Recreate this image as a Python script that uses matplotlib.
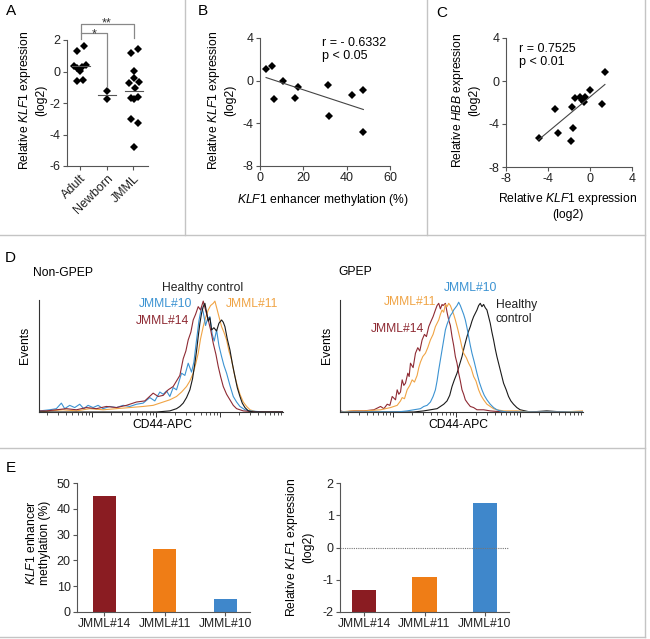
import numpy as np
import matplotlib
matplotlib.use("Agg")
import matplotlib.pyplot as plt
from matplotlib.lines import Line2D
from matplotlib.ticker import FixedLocator, NullFormatter

plt.rcParams['font.family'] = ['Liberation Sans', 'DejaVu Sans']
plt.rcParams['mathtext.fontset'] = 'custom'
plt.rcParams['mathtext.rm'] = 'Liberation Sans'
plt.rcParams['mathtext.it'] = 'Liberation Sans:italic'

W, H = 650, 639

# ---- A: KLF1 expression per group
groups = ["Adult", "Newborn", "JMML"]
adult = [1.32, 1.64, 0.35, 0.24, 0.05, 0.27, 0.39, -0.58, -0.54]
newborn = [-1.22, -1.77]
jmml = [1.15, 1.41, 0.05, -0.43, -0.75, -0.69, -1.07, -1.70, -1.75, -1.62, -3.04, -3.25, -4.81]
adult_jit = [-0.12, 0.15, -0.25, -0.12, 0.0, 0.06, 0.21, -0.12, 0.12]
newborn_jit = [0.0, 0.0]
jmml_jit = [-0.09, 0.16, 0.02, 0.02, -0.17, 0.2, 0.06, -0.09, 0.04, 0.16, -0.09, 0.19, 0.04]

# ---- B: methylation vs KLF1
meth = [2.8, 5.4, 6.5, 10.8, 16.2, 17.4, 31.2, 31.8, 42.3, 47.7, 47.4]
klf1_b = [1.12, 1.40, -1.70, -0.01, -1.60, -0.55, -0.36, -3.27, -1.33, -0.90, -4.84]

# ---- C: KLF1 vs HBB
klf1_c = [-4.9, -3.3, -3.05, -1.75, -1.65, -1.8, -1.4, -1.0, -0.75, -0.6, -0.45, 0.02, 1.12, 1.42]
hbb_c = [-5.26, -2.62, -4.83, -2.40, -4.33, -5.58, -1.56, -1.46, -1.78, -1.99, -1.46, -0.84, -2.15, 0.81]

# ---- D: CD44-APC histograms (channel, % of max)
ng_blue_ch = [30, 60, 80, 95, 105, 120, 135, 150, 162, 175, 190, 205, 220, 240, 260, 280, 300, 320, 340, 360,
              375, 390, 400, 410, 420, 430, 440, 450, 455, 465, 475, 485, 492, 500, 507, 515, 520, 527, 533, 540,
              547, 553, 560, 567, 575, 582, 590, 600, 610, 620, 630, 645, 660, 700, 759]
ng_blue = [1, 2, 3, 8, 3, 6, 4, 7, 3, 6, 4, 6, 3, 5, 4, 6, 5, 7, 8, 13, 10, 18, 16, 19, 14, 22, 20, 30, 35, 33,
           44, 36, 45, 65, 82, 95, 90, 78, 84, 86, 70, 64, 74, 60, 50, 42, 35, 24, 14, 9, 5, 2, 1, 0, 0]
ng_red_ch = [28, 50, 80, 110, 140, 170, 200, 230, 260, 290, 320, 345, 370, 385, 400, 415, 430, 440, 450, 460,
             468, 475, 483, 490, 497, 505, 512, 520, 527, 535, 543, 550, 558, 565, 572, 580, 590, 600, 610, 620,
             640, 680, 759]
ng_red = [1, 1, 2, 3, 2, 4, 3, 5, 4, 6, 9, 10, 17, 14, 15, 20, 23, 28, 33, 48, 55, 65, 72, 83, 88, 95, 92, 100,
          92, 83, 73, 62, 52, 41, 32, 23, 16, 11, 6, 3, 1, 0, 0]
ng_orange_ch = [28, 60, 100, 140, 180, 220, 260, 300, 340, 370, 400, 420, 440, 455, 470, 480, 490, 498, 505, 512,
                520, 527, 535, 542, 550, 555, 562, 568, 575, 582, 590, 597, 605, 612, 620, 630, 640, 650, 660, 680, 759]
ng_orange = [0, 1, 2, 1, 3, 2, 3, 4, 5, 6, 9, 11, 14, 18, 23, 28, 35, 44, 53, 66, 77, 85, 92, 96, 98, 100, 92, 85,
             77, 72, 65, 55, 47, 36, 26, 16, 9, 5, 2, 0, 0]
ng_black_ch = [28, 200, 380, 420, 440, 450, 460, 470, 480, 488, 495, 500, 505, 510, 515, 520, 525, 530, 535, 540,
               545, 552, 560, 567, 575, 580, 585, 592, 600, 607, 615, 622, 630, 637, 645, 655, 670, 759]
ng_black = [0, 0, 0, 1, 3, 5, 8, 13, 20, 30, 44, 55, 68, 80, 89, 95, 98, 90, 82, 85, 74, 76, 73, 80, 83, 81, 77,
            66, 56, 44, 32, 22, 14, 8, 4, 1, 0, 0]

g_red_ch = [30, 40, 70, 100, 130, 150, 160, 170, 178, 185, 195, 200, 205, 210, 215, 220, 225, 232, 236, 240,
            248, 255, 262, 268, 275, 282, 288, 295, 302, 308, 315, 320, 325, 330, 335, 338, 345, 350, 355, 360,
            365, 370, 375, 380, 385, 390, 395, 400, 405, 412, 420, 430, 440, 460, 480, 520, 600, 700, 759]
g_red = [1, 0, 1, 1, 2, 5, 3, 7, 6, 14, 11, 20, 16, 18, 29, 24, 26, 35, 32, 44, 40, 53, 58, 55, 65, 70, 68, 77,
         82, 86, 92, 96, 98, 93, 97, 96, 98, 90, 83, 78, 68, 60, 50, 44, 35, 28, 20, 16, 11, 8, 5, 4, 2, 2, 1,
         0, 0, 0, 0]
g_orange_ch = [30, 60, 100, 150, 180, 200, 210, 215, 222, 230, 238, 245, 252, 260, 265, 270, 277, 285, 292, 300,
               308, 315, 320, 325, 330, 335, 340, 345, 350, 355, 360, 365, 370, 375, 382, 390, 395, 400, 408, 415,
               422, 430, 437, 445, 452, 460, 470, 480, 490, 500, 520, 560, 600, 700, 759]
g_orange = [0, 1, 1, 2, 4, 6, 10, 13, 12, 20, 24, 29, 27, 33, 40, 45, 50, 53, 58, 65, 70, 77, 80, 83, 88, 92, 90,
            97, 95, 98, 96, 92, 88, 83, 75, 65, 58, 53, 49, 44, 40, 32, 28, 20, 15, 11, 7, 5, 3, 2, 1, 1, 0, 0, 1]
g_blue_ch = [30, 200, 230, 250, 270, 280, 290, 300, 308, 315, 320, 325, 330, 335, 340, 345, 350, 355, 360, 365,
             370, 375, 380, 385, 390, 395, 400, 405, 410, 415, 420, 425, 432, 440, 447, 455, 462, 470, 480, 490,
             500, 510, 530, 600, 759]
g_blue = [0, 0, 1, 2, 3, 5, 6, 9, 14, 20, 28, 38, 47, 56, 65, 74, 79, 83, 87, 89, 92, 94, 96, 99, 96, 92, 88, 83,
          76, 68, 60, 53, 45, 35, 27, 20, 15, 11, 7, 4, 2, 1, 0, 0, 0]
g_black_ch = [30, 250, 280, 300, 320, 330, 340, 350, 358, 365, 372, 380, 388, 395, 402, 410, 415, 420, 425, 430,
              435, 440, 445, 450, 455, 460, 465, 470, 475, 480, 485, 490, 495, 500, 505, 510, 515, 520, 528, 535,
              542, 550, 560, 570, 585, 600, 650, 700, 759]
g_black = [0, 0, 1, 2, 3, 5, 7, 10, 15, 23, 29, 35, 43, 50, 59, 68, 73, 77, 82, 86, 89, 92, 96, 98, 95, 97, 94,
           92, 86, 80, 72, 65, 57, 50, 44, 38, 32, 26, 20, 14, 10, 7, 4, 2, 1, 0, 1, 0, 0]

# ---- E: three JMML samples
samples = ["JMML#14", "JMML#11", "JMML#10"]
methylation = [45, 24.5, 5.2]
klf1_e = [-1.33, -0.92, 1.38]

RED, ORANGE, BLUE = "#8a1c22", "#ef7d16", "#3f87cb"
H_RED, H_ORANGE, H_BLUE, H_BLACK = "#8e2a33", "#f0a445", "#3c93d2", "#1a1a1a"
SPINE = "#555555"

fig = plt.figure(figsize=(W / 100, H / 100), dpi=100)


def rect(l, t, r, b):
    return [l / W, 1 - b / H, (r - l) / W, (b - t) / H]


def ftext(x, y, s, **kw):
    kw.setdefault("fontsize", 8.7)
    return fig.text(x / W, 1 - y / H, s, **kw)


def style(ax, ticksize=9):
    for s in ["top", "right"]:
        ax.spines[s].set_visible(False)
    for s in ["left", "bottom"]:
        ax.spines[s].set_color(SPINE)
        ax.spines[s].set_linewidth(0.8)
    ax.tick_params(length=3, width=0.8, color=SPINE, labelsize=ticksize, labelcolor="#222", pad=1.5)


# panel frame lines
for x0, y0, x1, y1 in [(185, 0, 185, 235), (427, 0, 427, 235), (0, 235, 645, 235),
                       (0, 448, 645, 448), (645, 0, 645, 637), (0, 637, 645, 637)]:
    fig.add_artist(Line2D([x0 / W, x1 / W], [1 - y0 / H, 1 - y1 / H], color="#c4c4c4", lw=1))

# ---------- A
axA = fig.add_axes(rect(67, 40, 148, 166))
for i, (vals, jit) in enumerate([(adult, adult_jit), (newborn, newborn_jit), (jmml, jmml_jit)]):
    axA.plot(np.array(jit) + i, vals, "D", color="black", ms=3.6, mew=0)
    axA.plot([i - 0.33, i + 0.36], [np.mean(vals)] * 2, color="#555", lw=0.8)
axA.set_xlim(-0.5, 2.55)
axA.set_ylim(-6, 2)
axA.set_yticks([-6, -4, -2, 0, 2])
axA.set_yticklabels(["-6", "-4", "-2", "0", "2"])
axA.set_xticks([0, 1, 2])
axA.set_xticklabels(groups, rotation=45, ha="right", rotation_mode="anchor")
style(axA)
br = dict(color="#888", lw=0.9, clip_on=False)
axA.plot([0.04, 0.04, 2.01, 2.01], [2.44, 3.02, 3.02, 2.13], **br)
axA.plot([0.04, 0.04, 1.0, 1.0], [2.04, 2.44, 2.44, -1.0], **br)
axA.text(1.0, 2.83, "**", ha="center", va="baseline", fontsize=9, color="#333")
axA.text(0.53, 2.17, "*", ha="center", va="baseline", fontsize=9, color="#333")
ftext(32, 100, "Relative $\\mathit{KLF1}$ expression\n(log2)", rotation=90, ha="center", va="center",
      multialignment="center")

# ---------- B
axB = fig.add_axes(rect(260, 38, 390, 166))
axB.plot(meth, klf1_b, "D", color="black", ms=3.6, mew=0)
kb = np.polyfit(meth, klf1_b, 1)
xb = np.array([min(meth), max(meth)])
axB.plot(xb, np.polyval(kb, xb), color="#444", lw=0.8)
axB.set_xlim(0, 60)
axB.set_ylim(-8, 4)
axB.set_xticks([0, 20, 40, 60])
axB.set_yticks([-8, -4, 0, 4])
axB.set_yticklabels(["-8", "-4", "0", "4"])
style(axB)
ftext(221, 100, "Relative $\\mathit{KLF1}$ expression\n(log2)", rotation=90, ha="center", va="center",
      multialignment="center")
ftext(323, 200, "$\\mathit{KLF1}$ enhancer methylation (%)", ha="center", va="center")
ftext(322, 43, "r = - 0.6332", ha="left", va="center", fontsize=9)
ftext(322, 56, "p < 0.05", ha="left", va="center", fontsize=9)

# ---------- C
axC = fig.add_axes(rect(506, 38, 632, 167))
axC.plot(klf1_c, hbb_c, "D", color="black", ms=3.6, mew=0)
kc = np.polyfit(klf1_c, hbb_c, 1)
xc = np.array([min(klf1_c), max(klf1_c)])
axC.plot(xc, np.polyval(kc, xc), color="#444", lw=0.8)
axC.set_xlim(-8, 4)
axC.set_ylim(-8, 4)
axC.set_xticks([-8, -4, 0, 4])
axC.set_xticklabels(["-8", "-4", "0", "4"])
axC.set_yticks([-8, -4, 0, 4])
axC.set_yticklabels(["-8", "-4", "0", "4"])
style(axC)
ftext(465, 100, "Relative $\\mathit{HBB}$ expression\n(log2)", rotation=90, ha="center", va="center",
      multialignment="center")
ftext(568, 206, "Relative $\\mathit{KLF1}$ expression\n(log2)", ha="center", va="center",
      multialignment="center")
ftext(519, 49, "r = 0.7525", ha="left", va="center", fontsize=9)
ftext(519, 62, "p < 0.01", ha="left", va="center", fontsize=9)

# ---------- D
dec_major = [186 + 192 * k for k in range(-1, 4)]
dec_minor = [m + 192 * np.log10(j) for m in dec_major for j in range(2, 10)]


def hist_axes(box, curves):
    ax = fig.add_axes(rect(*box))
    for ch, v, c in curves:
        ax.plot(ch, v, color=c, lw=0.8)
    ax.set_xlim(28, 759)
    ax.set_ylim(0, 101)
    style(ax)
    ax.spines["left"].set_color("#333")
    ax.spines["bottom"].set_color("#333")
    ax.set_yticks([])
    ax.xaxis.set_major_locator(FixedLocator([m for m in dec_major if 28 <= m <= 759]))
    ax.xaxis.set_minor_locator(FixedLocator([m for m in dec_minor if 28 <= m <= 759]))
    ax.xaxis.set_major_formatter(NullFormatter())
    ax.tick_params(axis="x", which="major", length=3.5, width=0.7, color="#333")
    ax.tick_params(axis="x", which="minor", length=2, width=0.6, color="#333")
    return ax


hist_axes((39, 300, 283, 412), [(ng_orange_ch, ng_orange, H_ORANGE), (ng_blue_ch, ng_blue, H_BLUE),
                                (ng_red_ch, ng_red, H_RED), (ng_black_ch, ng_black, H_BLACK)])
hist_axes((340, 300, 583, 412), [(g_black_ch, g_black, H_BLACK), (g_red_ch, g_red, H_RED),
                                 (g_orange_ch, g_orange, H_ORANGE), (g_blue_ch, g_blue, H_BLUE)])

ftext(33, 273, "Non-GPEP", ha="left", va="center")
ftext(338, 272, "GPEP", ha="left", va="center")
ftext(25, 345, "Events", rotation=90, ha="center", va="center")
ftext(327, 345, "Events", rotation=90, ha="center", va="center")
ftext(162, 425, "CD44-APC", ha="center", va="center")
ftext(458, 425, "CD44-APC", ha="center", va="center")

ftext(203, 288, "Healthy control", ha="center", va="center", color="#222")
ftext(166, 304, "JMML#10", ha="center", va="center", color=H_BLUE)
ftext(252, 304, "JMML#11", ha="center", va="center", color=H_ORANGE)
ftext(162, 321, "JMML#14", ha="center", va="center", color=H_RED)

ftext(471, 288, "JMML#10", ha="center", va="center", color=H_BLUE)
ftext(410, 302, "JMML#11", ha="center", va="center", color=H_ORANGE)
ftext(496, 312, "Healthy\ncontrol", ha="left", va="center", color="#222")
ftext(397, 329, "JMML#14", ha="center", va="center", color=H_RED)

# ---------- E
colors = [RED, ORANGE, BLUE]
axE1 = fig.add_axes(rect(77, 483, 250, 612))
axE1.bar(range(3), methylation, width=0.38, color=colors)
axE1.set_xlim(-0.446, 2.41)
axE1.set_ylim(0, 50)
axE1.set_yticks(range(0, 51, 10))
axE1.set_xticks(range(3))
axE1.set_xticklabels(samples)
style(axE1)
axE1.tick_params(axis="x", labelsize=8.7)
ftext(38, 543, "$\\mathit{KLF1}$ enhancer\nmethylation (%)", rotation=90, ha="center", va="center",
      multialignment="center")

axE2 = fig.add_axes(rect(340, 483, 509, 612))
axE2.bar(range(3), np.array(klf1_e) + 2, bottom=-2, width=0.4, color=colors)
axE2.axhline(0, color="#777", lw=0.8, ls=(0, (1, 1)))
axE2.set_xlim(-0.40, 2.40)
axE2.set_ylim(-2, 2)
axE2.set_yticks([-2, -1, 0, 1, 2])
axE2.set_yticklabels(["-2", "-1", "0", "1", "2"])
axE2.set_xticks(range(3))
axE2.set_xticklabels(samples)
style(axE2)
axE2.tick_params(axis="x", labelsize=8.7)
ftext(299, 547, "Relative $\\mathit{KLF1}$ expression\n(log2)", rotation=90, ha="center", va="center",
      multialignment="center")

# panel letters
for lab, x, y in [("A", 11, 11), ("B", 203, 11), ("C", 442, 13), ("D", 10, 258), ("E", 11, 468)]:
    ftext(x, y, lab, ha="center", va="center", fontsize=11)

fig.savefig("out.png", dpi=100)
